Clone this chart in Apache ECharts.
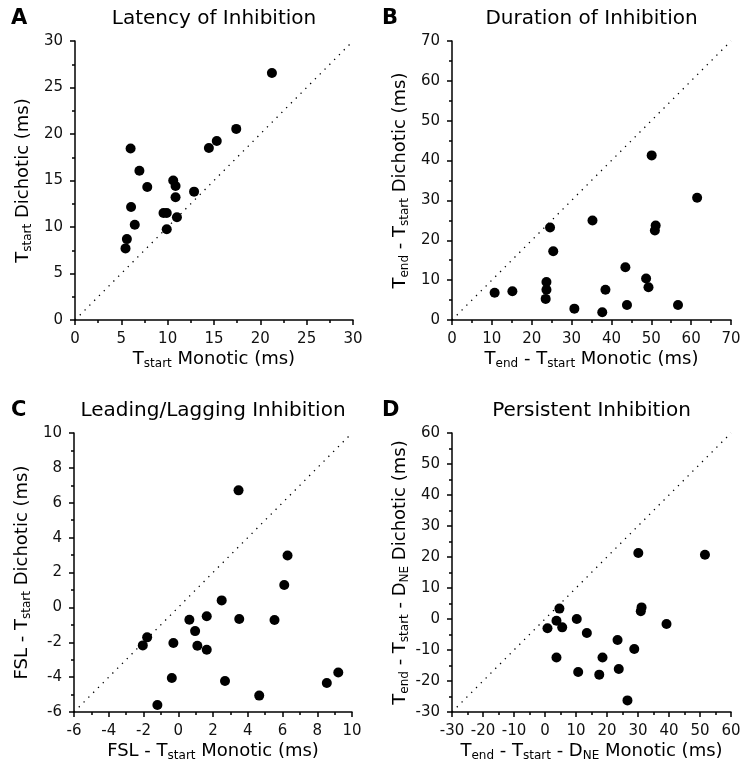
<!DOCTYPE html>
<html>
<head>
<meta charset="utf-8">
<script src="https://cdn.jsdelivr.net/npm/echarts@6/dist/echarts.min.js"></script>
<style>
  html, body { margin: 0; padding: 0; background: #fff; }
  #chart { width: 741px; height: 772px; }
</style>
</head>
<body>
<div id="chart"></div>
<script>
// A - latency of inhibition (Tstart)
var latMonotic  = [21.25, 17.4, 15.3, 14.45, 6.0, 6.95, 7.8, 10.6, 10.85, 10.85, 12.85, 6.05, 9.55, 9.9, 11.0, 6.45, 9.9, 5.6, 5.45];
var latDichotic = [26.55, 20.55, 19.25, 18.5, 18.45, 16.05, 14.3, 15.0, 14.4, 13.2, 13.8, 12.15, 11.5, 11.5, 11.05, 10.25, 9.75, 8.7, 7.7];

// B - duration of inhibition (Tend - Tstart)
var durMonotic  = [50.1, 61.5, 35.25, 24.6, 51.1, 50.9, 25.4, 43.5, 48.7, 49.3, 23.7, 23.7, 23.5, 38.5, 10.7, 15.15, 30.7, 37.7, 43.9, 56.7];
var durDichotic = [41.3, 30.65, 24.95, 23.2, 23.7, 22.45, 17.25, 13.25, 10.4, 8.2, 9.55, 7.6, 5.3, 7.6, 6.85, 7.2, 2.85, 1.95, 3.75, 3.75];

// C - leading/lagging inhibition (FSL - Tstart)
var leadMonotic  = [3.47, 6.29, 6.1, 2.5, 1.64, 0.64, 3.51, 5.54, 0.97, -1.79, -2.04, -0.28, 1.1, 1.64, -0.37, 2.69, 4.66, 8.55, 9.21, -1.2];
var leadDichotic = [6.71, 2.98, 1.28, 0.4, -0.51, -0.71, -0.67, -0.72, -1.36, -1.72, -2.18, -2.04, -2.2, -2.43, -4.05, -4.22, -5.06, -4.34, -3.73, -5.6];

// D - persistent inhibition (Tend - Tstart - DNE)
var persMonotic  = [30.1, 51.6, 31.15, 30.9, 4.65, 3.7, 10.25, 5.55, 0.8, 39.2, 13.5, 23.4, 28.8, 3.7, 18.55, 10.7, 17.5, 23.8, 26.6];
var persDichotic = [21.3, 20.75, 3.75, 2.5, 3.35, -0.55, 0.0, -2.7, -3.0, -1.6, -4.5, -6.75, -9.7, -12.4, -12.4, -17.1, -17.95, -16.15, -26.25];

var panelTitles = ["Latency of Inhibition", "Duration of Inhibition", "Leading/Lagging Inhibition", "Persistent Inhibition"];
var panelLetters = ["A", "B", "C", "D"];

var FONT = "DejaVu Sans";

function pairs(xs, ys) {
  var out = [];
  for (var i = 0; i < xs.length; i++) out.push([xs[i], ys[i]]);
  return out;
}

// grid boxes in px
var grids = [
  { left: 75, top: 41, width: 278, height: 279 },
  { left: 452, top: 41, width: 279, height: 279 },
  { left: 74, top: 433, width: 278, height: 279 },
  { left: 452, top: 433, width: 279, height: 279 }
];

var ranges = [
  { min: 0, max: 30, interval: 5 },
  { min: 0, max: 70, interval: 10 },
  { min: -6, max: 10, interval: 2 },
  { min: -30, max: 60, interval: 10 }
];

var xNames = [
  "{m|T}{s|start}{m| Monotic (ms)}",
  "{m|T}{s|end}{m| - T}{s|start}{m| Monotic (ms)}",
  "{m|FSL - T}{s|start}{m| Monotic (ms)}",
  "{m|T}{s|end}{m| - T}{s|start}{m| - D}{s|NE}{m| Monotic (ms)}"
];
var yNames = [
  "{m|T}{s|start}{m| Dichotic (ms)}",
  "{m|T}{s|end}{m| - T}{s|start}{m| Dichotic (ms)}",
  "{m|FSL - T}{s|start}{m| Dichotic (ms)}",
  "{m|T}{s|end}{m| - T}{s|start}{m| - D}{s|NE}{m| Dichotic (ms)}"
];

var nameRich = {
  m: { fontSize: 18, fontFamily: FONT, color: "#000", lineHeight: 22 },
  s: { fontSize: 12, fontFamily: FONT, color: "#000", lineHeight: 11, verticalAlign: "bottom" }
};

function makeAxis(i, isX) {
  var r = ranges[i];
  return {
    type: "value",
    gridIndex: i,
    min: r.min,
    max: r.max,
    interval: r.interval,
    name: isX ? xNames[i] : yNames[i],
    nameLocation: "middle",
    nameGap: isX ? 23 : 41,
    nameTextStyle: { rich: nameRich, fontSize: 18, fontFamily: FONT, color: "#000", lineHeight: 22 },
    axisLine: { show: true, onZero: false, lineStyle: { color: "#000", width: 1.5 } },
    axisTick: { show: true, inside: false, length: 5, lineStyle: { color: "#000", width: 1.5 } },
    minorTick: { show: true, splitNumber: 2, length: 3, lineStyle: { color: "#000", width: 1.5 } },
    splitLine: { show: false },
    minorSplitLine: { show: false },
    axisLabel: { fontSize: 15, fontFamily: FONT, color: "#111", margin: 12, hideOverlap: false, showMinLabel: true, showMaxLabel: true }
  };
}

var xAxes = [], yAxes = [], series = [], graphics = [];
var allData = [
  pairs(latMonotic, latDichotic),
  pairs(durMonotic, durDichotic),
  pairs(leadMonotic, leadDichotic),
  pairs(persMonotic, persDichotic)
];

for (var i = 0; i < 4; i++) {
  xAxes.push(makeAxis(i, true));
  yAxes.push(makeAxis(i, false));
  // unity line
  series.push({
    type: "line",
    xAxisIndex: i,
    yAxisIndex: i,
    data: [[ranges[i].min, ranges[i].min], [ranges[i].max, ranges[i].max]],
    symbol: "none",
    silent: true,
    animation: false,
    lineStyle: { color: "#000", width: 1.3, type: [1.3, 5.5] },
    z: 1
  });
  series.push({
    type: "scatter",
    xAxisIndex: i,
    yAxisIndex: i,
    data: allData[i],
    symbol: "circle",
    symbolSize: 10,
    itemStyle: { color: "#000", opacity: 1 },
    animation: false,
    z: 2
  });
  var g = grids[i];
  graphics.push({
    type: "text",
    x: g.left + g.width / 2,
    y: g.top - 22,
    style: { text: panelTitles[i], fontSize: 20, fontFamily: FONT, fill: "#000", align: "center", verticalAlign: "middle" }
  });
  graphics.push({
    type: "text",
    x: i % 2 === 0 ? 11 : 382,
    y: g.top - 22,
    style: { text: panelLetters[i], fontSize: 21, fontWeight: "bold", fontFamily: FONT, fill: "#000", align: "left", verticalAlign: "middle" }
  });
}

var myChart = echarts.init(document.getElementById("chart"), null, { renderer: "canvas" });

var option = {
  backgroundColor: "#fff",
  animation: false,
  grid: grids.map(function (g) {
    return { left: g.left, top: g.top, width: g.width, height: g.height, outerBoundsMode: "none", containLabel: false };
  }),
  xAxis: xAxes,
  yAxis: yAxes,
  series: series,
  graphic: graphics
};

myChart.setOption(option);
</script>
</body>
</html>
